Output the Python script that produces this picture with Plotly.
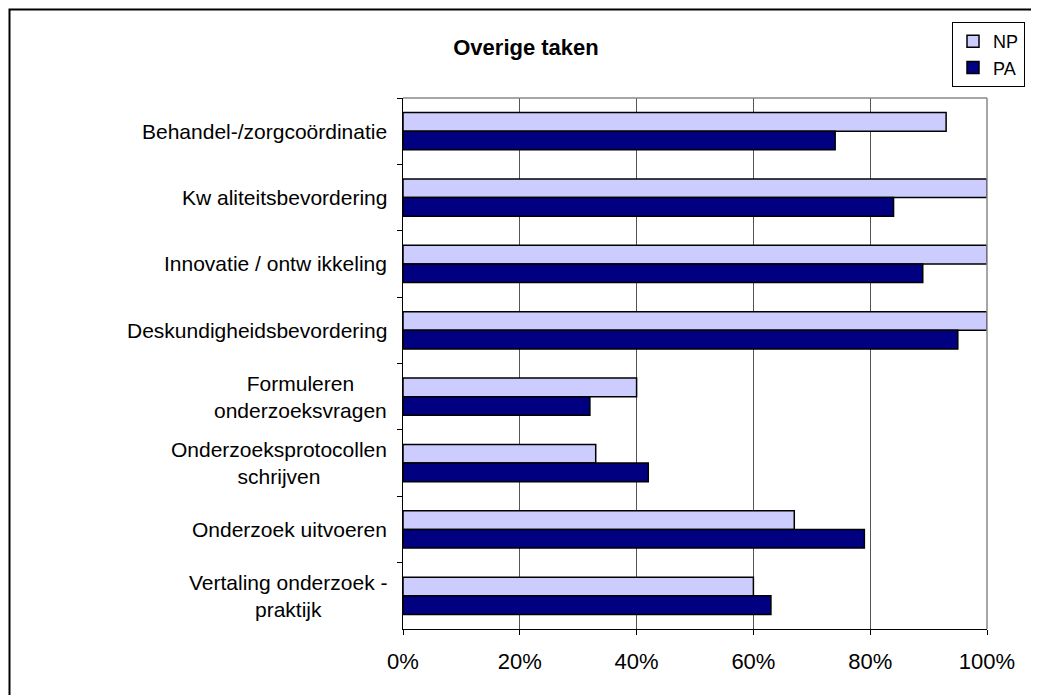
import plotly.graph_objects as go

categories = [
    "Behandel-/zorgcoördinatie",
    "Kw aliteitsbevordering",
    "Innovatie / ontw ikkeling",
    "Deskundigheidsbevordering",
    "Formuleren<br>onderzoeksvragen",
    "Onderzoeksprotocollen<br>schrijven",
    "Onderzoek uitvoeren",
    "Vertaling onderzoek -<br>praktijk",
]
np_values = [93, 100, 100, 100, 40, 33, 67, 60]
pa_values = [74, 84, 89, 95, 32, 42, 79, 63]
x_ticks = [0, 20, 40, 60, 80, 100]
x_tick_labels = ["0%", "20%", "40%", "60%", "80%", "100%"]

W, H = 1039, 695
OFF = 8  # page body margin
# target plot-area edges in screenshot pixels
L, R, T, B = 403, 987, 98, 629

FONT = "Liberation Sans, Arial, sans-serif"

fig = go.Figure()
fig.add_trace(go.Bar(
    y=categories, x=np_values, orientation="h", name="NP",
    marker=dict(color="#CCCCFF", line=dict(color="black", width=1.5)),
))
fig.add_trace(go.Bar(
    y=categories, x=pa_values, orientation="h", name="PA",
    marker=dict(color="#000080", line=dict(color="black", width=1.5)),
))

def px_x(p):
    return (p - L) / (R - L)

def px_y(p):
    return (B - p) / (B - T)

annotations = []
for c in categories:
    annotations.append(dict(
        x=0, xref="paper", xshift=-14, y=c, yref="y",
        text=c, showarrow=False, xanchor="right", yanchor="middle",
        align="center", font=dict(family=FONT, size=21, color="black"),
    ))

fig.update_layout(
    width=W, height=H,
    margin=dict(l=L - OFF, r=W + OFF - R, t=T - OFF, b=H + OFF - B, pad=0),
    paper_bgcolor="white", plot_bgcolor="white",
    barmode="group", bargap=0.44, bargroupgap=0,
    font=dict(family=FONT, size=20, color="black"),
    title=dict(
        text="<b>Overige taken</b>", x=(526 - OFF) / W, xref="container", xanchor="center",
        y=1 - (47 - OFF) / H, yref="container", yanchor="middle",
        font=dict(family=FONT, size=22, color="black"),
    ),
    legend=dict(
        x=px_x(952), y=px_y(22), xanchor="left", yanchor="top",
        bordercolor="black", borderwidth=1, bgcolor="white",
        traceorder="normal", itemwidth=30,
        font=dict(family=FONT, size=18, color="black"),
        tracegroupgap=0,
    ),
    xaxis=dict(
        range=[0, 100], tickvals=x_ticks, ticktext=x_tick_labels,
        showgrid=True, gridcolor="#555555", gridwidth=1,
        showline=True, linecolor="black", linewidth=1,
        ticks="outside", ticklen=5, tickcolor="black",
        ticklabelstandoff=8,
        tickfont=dict(family=FONT, size=22, color="black"),
        zeroline=False, mirror=False, fixedrange=True,
    ),
    yaxis=dict(
        autorange="reversed", showticklabels=False,
        showline=True, linecolor="black", linewidth=1,
        ticks="outside", ticklen=5, tickcolor="black",
        tickson="boundaries", showgrid=False, fixedrange=True,
    ),
    annotations=annotations,
    shapes=[
        dict(type="line", xref="paper", yref="paper", x0=0, x1=1, y0=1, y1=1,
             line=dict(color="#888888", width=1.5)),
        dict(type="line", xref="paper", yref="paper", x0=1, x1=1, y0=0, y1=1,
             line=dict(color="#888888", width=1.5)),
        dict(type="rect", xref="paper", yref="paper",
             x0=px_x(OFF + 1.5), x1=px_x(W + 40), y0=px_y(H + 40), y1=px_y(OFF + 1.5),
             line=dict(color="black", width=2), layer="below"),
    ],
)

fig.write_html("out.html")
